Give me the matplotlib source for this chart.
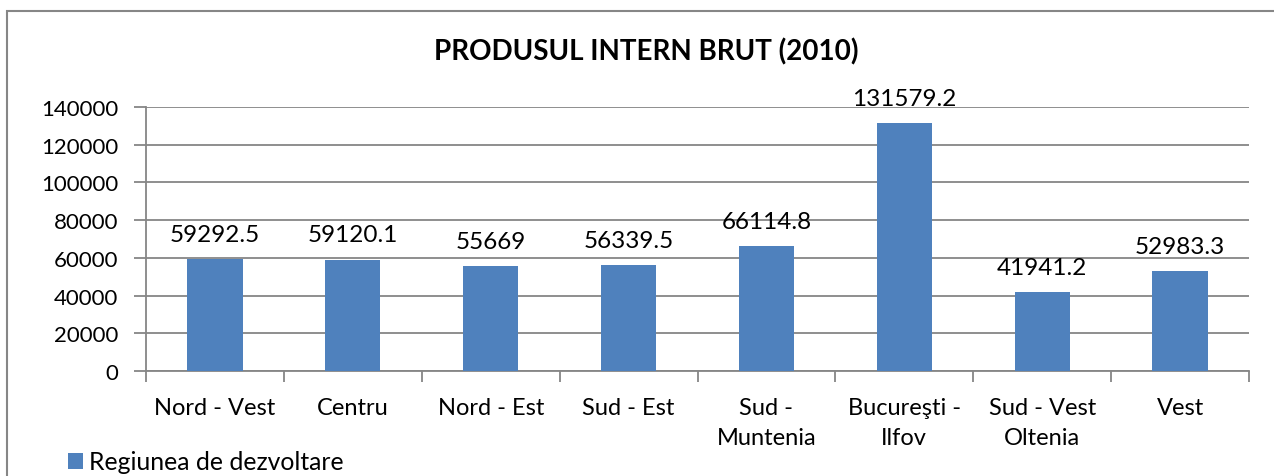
import numpy as np
import matplotlib.pyplot as plt
from matplotlib.patches import Rectangle

regions = ['Nord - Vest', 'Centru', 'Nord - Est', 'Sud - Est', 'Sud -\nMuntenia',
           'Bucureşti -\nIlfov', 'Sud - Vest\nOltenia', 'Vest']
pib = [59292.5, 59120.1, 55669, 56339.5, 66114.8, 131579.2, 41941.2, 52983.3]
labels = ['59292.5', '59120.1', '55669', '56339.5', '66114.8', '131579.2', '41941.2', '52983.3']
yticks = [0, 20000, 40000, 60000, 80000, 100000, 120000, 140000]

plt.rcParams['font.family'] = ['Lato', 'DejaVu Sans']
W, H = 1274, 477
fig = plt.figure(figsize=(W / 100, H / 100), dpi=100)
ax = fig.add_axes([146 / W, 1 - 372 / H, (1249 - 146) / W, (372 - 108) / H])

# chart border
fig.patches.append(Rectangle((7 / W, -0.1), 1.2, 1 - 12 / H + 0.1, transform=fig.transFigure,
                             fill=False, edgecolor='#868686', linewidth=1.5))

grey = '#868686'
x = np.arange(len(regions)) + 0.5
ax.bar(x, pib, width=0.4, color='#4f81bd', zorder=3, label='Regiunea de dezvoltare')
for xi, v, s in zip(x, pib, labels):
    ax.annotate(s, (xi, v), xytext=(0, 13), textcoords='offset points',
                ha='center', va='baseline', fontsize=17.5)

ax.set_xlim(0, len(regions))
ax.set_ylim(0, 140000)
ax.set_yticks(yticks)
ax.set_yticklabels([str(t) for t in yticks], fontsize=16)
ax.yaxis.grid(True, color=grey, linewidth=1.3, zorder=0)
ax.set_xticks(np.arange(len(regions) + 1))
ax.set_xticklabels([])
ax.set_xticks(x, minor=True)
ax.set_xticklabels(regions, minor=True, fontsize=17, linespacing=1.5, va='top')
ax.tick_params(axis='x', which='minor', length=0, pad=19)
ax.tick_params(axis='x', which='major', length=8, color=grey, width=1.3)
ax.tick_params(axis='y', length=9, color=grey, width=1.3, pad=11)
for side in ['top', 'right']:
    ax.spines[side].set_visible(False)
for side in ['left', 'bottom']:
    ax.spines[side].set_color(grey)
    ax.spines[side].set_linewidth(1.3)

fig.text(646 / W, 1 - 52 / H, 'PRODUSUL INTERN BRUT (2010)', ha='center', va='center',
         fontsize=20, fontweight='bold')
fig.legend(loc='center left', bbox_to_anchor=(68 / W, 1 - 463 / H), frameon=False,
           fontsize=17.8, handlelength=0.6, handleheight=0.6, handletextpad=0.25,
           borderaxespad=0, borderpad=0)

fig.savefig('out.png', dpi=100)
